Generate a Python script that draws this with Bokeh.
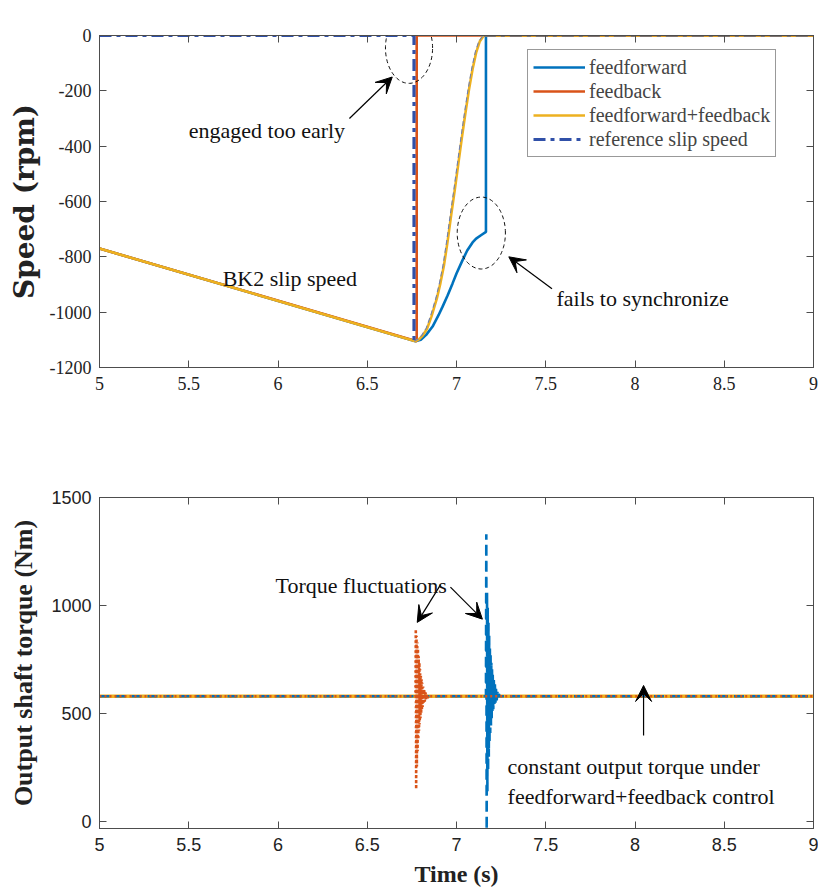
import numpy as np
from bokeh.plotting import figure
from bokeh.layouts import column
from bokeh.models import (FixedTicker, LinearAxis, Range1d, Legend, LegendItem,
                          Label, Arrow, VeeHead, PolyAnnotation)
from bokeh.embed import file_html
from bokeh.resources import INLINE

# ---------------- data ----------------
x_ticks = [5, 5.5, 6, 6.5, 7, 7.5, 8, 8.5, 9]
x_tick_labels = ["5", "5.5", "6", "6.5", "7", "7.5", "8", "8.5", "9"]
speed_ticks = [-1200, -1000, -800, -600, -400, -200, 0]
speed_tick_labels = ["-1200", "-1000", "-800", "-600", "-400", "-200", "0"]
torque_ticks = [0, 500, 1000, 1500]
torque_tick_labels = ["0", "500", "1000", "1500"]

# Speed (rpm) -- feedforward
ff_t = [5.0, 6.77, 6.80, 6.83, 6.866, 6.90, 6.922, 6.95, 6.978, 7.00, 7.034, 7.06,
        7.09, 7.11, 7.137, 7.165, 7.165, 9.0]
ff_v = [-770, -1105, -1100, -1082, -1052, -1010, -980, -940, -896, -860, -812, -777,
        -748, -734, -722, -710, 0, 0]
# feedback
fb_t = [5.0, 6.777, 6.777, 9.0]
fb_v = [-770, -1105, 0, 0]
# feedforward+feedback (BK2 slip speed)
ffb_t = [5.0, 6.77, 6.79, 6.81, 6.835, 6.86, 6.89, 6.91, 6.93, 6.95, 6.97, 6.99,
         7.01, 7.03, 7.05, 7.07, 7.09, 7.11, 7.13, 7.15, 7.16, 9.0]
ffb_v = [-770, -1105, -1098, -1085, -1060, -1015, -950, -895, -830, -745, -650, -560,
         -465, -370, -280, -195, -122, -62, -22, -3, 0, 0]
# reference slip speed
ref_t = [5.0, 6.762, 6.762, 6.785, 6.805, 6.83, 6.855, 6.885, 6.905, 6.925, 6.945, 6.965,
         6.985, 7.005, 7.025, 7.045, 7.065, 7.085, 7.105, 7.125, 7.145, 7.153, 9.0]
ref_v = [0, 0, -1105, -1097, -1084, -1058, -1013, -948, -893, -828, -743, -648,
         -558, -463, -368, -278, -193, -120, -60, -21, -3, 0, 0]

# Output shaft torque (Nm)
ffb_tq_t = [5.0, 9.0]
ffb_tq = [580, 580]
fb_tq_t = [5.0, 6.770, 6.772, 6.774, 6.776, 6.778, 6.780, 6.782, 6.784, 6.786, 6.788,
           6.790, 6.792, 6.794, 6.796, 6.798, 6.800, 6.802, 6.804, 6.806, 6.808, 6.810,
           6.813, 6.816, 6.819, 6.822, 6.826, 6.830, 6.835, 6.840, 6.845, 9.0]
fb_tq = [580, 580, 890, 150, 860, 255, 830, 325, 800, 380, 765, 420,
         735, 450, 705, 478, 680, 500, 660, 515, 642, 530,
         625, 545, 612, 555, 600, 565, 590, 572, 580, 580]
ff_tq_t = [5.0, 7.165, 7.167, 7.169, 7.171, 7.173, 7.175, 7.177, 7.179, 7.181, 7.183,
           7.185, 7.187, 7.189, 7.191, 7.193, 7.195, 7.197, 7.199, 7.201, 7.203, 7.206,
           7.209, 7.212, 7.215, 7.218, 7.221, 7.225, 7.229, 7.233, 7.237, 7.242, 9.0]
ff_tq = [580, 580, 1330, -40, 1060, 140, 990, 230, 920, 300, 860,
         360, 810, 410, 770, 445, 735, 475, 705, 500, 680, 520,
         655, 535, 635, 550, 615, 560, 600, 570, 590, 580, 580]

# ---------------- style ----------------
C_FF = "#0072BD"
C_FB = "#D95319"
C_FFB = "#EDB120"
C_REF = "#3050A8"
AX = "#4d4d4d"
SERIF = "Liberation Serif"
SANS = "Liberation Sans"


def style_axes(p, yticks, ylabels, xfont, yfont):
    p.xgrid.visible = False
    p.ygrid.visible = False
    p.outline_line_color = AX
    p.outline_line_width = 1
    p.background_fill_color = "white"
    bx = p.below[0]
    ly = p.left[0]
    bx.ticker = FixedTicker(ticks=x_ticks)
    bx.major_label_overrides = {t: l for t, l in zip(x_ticks, x_tick_labels)}
    bx.major_label_text_font = xfont
    ly.ticker = FixedTicker(ticks=yticks)
    ly.major_label_overrides = {t: l for t, l in zip(yticks, ylabels)}
    ly.major_label_text_font = yfont
    for ax in [bx, ly]:
        ax.axis_line_color = AX
        ax.major_tick_line_color = AX
        ax.major_tick_in = 7
        ax.major_tick_out = 0
        ax.minor_tick_line_color = None
        ax.major_label_text_font_size = "18px"
        ax.major_label_text_color = "#222222"
        ax.axis_label_text_font = SERIF
        ax.axis_label_text_font_style = "bold"
        ax.axis_label_text_color = "#222222"
    bx.major_label_standoff = 9
    ly.major_label_standoff = 8
    # box ticks on top and right (no labels)
    top = LinearAxis(ticker=FixedTicker(ticks=x_ticks),
                     major_label_overrides={t: "" for t in x_ticks},
                     major_tick_in=7, major_tick_out=0, minor_tick_line_color=None,
                     axis_line_color=AX, major_tick_line_color=AX, major_label_standoff=0)
    right = LinearAxis(ticker=FixedTicker(ticks=yticks),
                       major_label_overrides={t: "" for t in yticks},
                       major_tick_in=7, major_tick_out=0, minor_tick_line_color=None,
                       axis_line_color=AX, major_tick_line_color=AX, major_label_standoff=0)
    p.add_layout(top, "above")
    p.add_layout(right, "right")
    return bx, ly


def ellipse(p, cx, cy, rx, ry):
    th = np.linspace(0, 2 * np.pi, 90)
    p.add_layout(PolyAnnotation(xs=list(cx + rx * np.cos(th)), ys=list(cy + ry * np.sin(th)),
                                fill_color=None, fill_alpha=0, line_color="#111111",
                                line_alpha=1, line_dash="4 3", line_width=1))


def arrow(p, x0, y0, x1, y1):
    p.add_layout(Arrow(end=VeeHead(size=16, fill_color="black", line_color="black"),
                       x_start=x0, y_start=y0, x_end=x1, y_end=y1,
                       line_color="black", line_width=1.2))


def label(p, x, y, text, size="22px"):
    p.add_layout(Label(x=x, y=y, text=text, text_font=SERIF, text_font_size=size,
                       text_baseline="middle", text_color="#111111"))


# ---------------- top plot ----------------
p1 = figure(width=818, height=420, frame_width=714, frame_height=332,
            x_range=Range1d(5, 9), y_range=Range1d(-1200, 0),
            output_backend="svg", toolbar_location=None,
            min_border_left=99, min_border_right=5, min_border_top=35, min_border_bottom=53)
bx1, ly1 = style_axes(p1, speed_ticks, speed_tick_labels, SERIF, SERIF)
ly1.axis_label = "Speed (rpm)"
ly1.axis_label_text_font = "DejaVu Serif"
ly1.axis_label_text_font_size = "28px"
ly1.axis_label_standoff = 6

r_ff = p1.line(ff_t, ff_v, line_color=C_FF, line_width=2.6)
r_fb = p1.line(fb_t, fb_v, line_color=C_FB, line_width=2.6)
r_ffb = p1.line(ffb_t, ffb_v, line_color=C_FFB, line_width=2.6)
r_ref1 = p1.line(ref_t[:3], ref_v[:3], line_color=C_REF, line_width=3.2, line_dash="12 5 4 5")
p1.line(ref_t[2:-1], ref_v[2:-1], line_color="#7080B0", line_width=1.1, line_dash="5 3")
p1.line(ref_t[-2:], ref_v[-2:], line_color=C_REF, line_width=3, line_dash="12 5 4 5",
        line_alpha=0.55)

legend = Legend(items=[LegendItem(label="feedforward", renderers=[r_ff]),
                       LegendItem(label="feedback", renderers=[r_fb]),
                       LegendItem(label="feedforward+feedback", renderers=[r_ffb]),
                       LegendItem(label="reference slip speed", renderers=[r_ref1])],
                location=(428, 210), label_text_font=SERIF, label_text_font_size="20px",
                glyph_width=52, glyph_height=24, label_height=24, label_standoff=4,
                spacing=0, padding=5, margin=0, border_line_color="#333333",
                border_line_width=1, background_fill_alpha=1)
p1.add_layout(legend, "center")

ellipse(p1, 6.734, -45, 0.132, 128)
ellipse(p1, 7.139, -714, 0.135, 130)
arrow(p1, 6.40, -300, 6.64, -150)
arrow(p1, 7.535, -915, 7.293, -800)
label(p1, 5.5, -345, "engaged too early")
label(p1, 5.69, -880, "BK2 slip speed")
label(p1, 7.56, -952, "fails to synchronize")

# ---------------- bottom plot ----------------
p2 = figure(width=818, height=468, frame_width=714, frame_height=331,
            x_range=Range1d(5, 9), y_range=Range1d(-32, 1500),
            output_backend="svg", toolbar_location=None,
            min_border_left=99, min_border_right=5, min_border_top=77, min_border_bottom=60)
bx2, ly2 = style_axes(p2, torque_ticks, torque_tick_labels, SANS, SANS)
ly2.axis_label = "Output shaft torque (Nm)"
ly2.axis_label_text_font_size = "26px"
ly2.axis_label_standoff = 10
bx2.axis_label = "Time (s)"
bx2.axis_label_text_font_size = "24px"
bx2.axis_label_standoff = 7

p2.line(ffb_tq_t, ffb_tq, line_color=C_FFB, line_width=3.5)
p2.line(ff_tq_t, ff_tq, line_color=C_FF, line_width=2.6, line_dash="10 6")
p2.line(fb_tq_t, fb_tq, line_color=C_FB, line_width=2.6, line_dash="2 3")

arrow(p2, 6.911, 1097, 6.78, 922)
arrow(p2, 6.966, 1085, 7.145, 937)
arrow(p2, 8.048, 398, 8.048, 630)
label(p2, 5.986, 1093, "Torque fluctuations")
label(p2, 7.286, 255, "constant output torque under")
label(p2, 7.286, 116, "feedforward+feedback control")

layout = column(p1, p2, spacing=0)
open("out.html", "w").write(file_html(layout, INLINE))
